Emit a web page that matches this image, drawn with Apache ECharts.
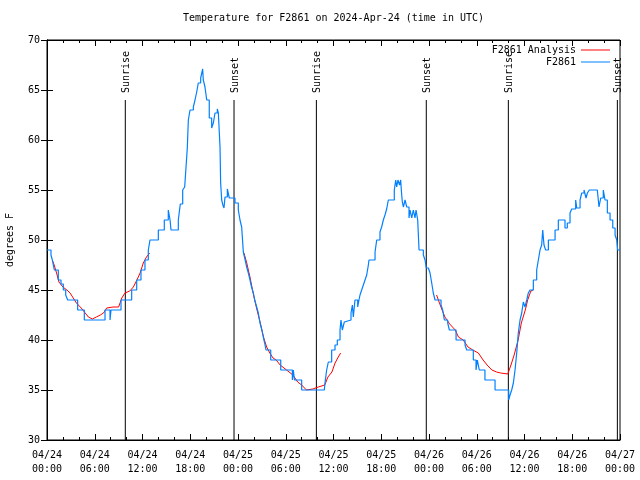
<!DOCTYPE html>
<html>
<head>
<meta charset="utf-8">
<script src="https://cdn.jsdelivr.net/npm/echarts@6/dist/echarts.min.js"></script>
<style>html,body{margin:0;padding:0;background:#fff}#c{width:640px;height:480px}</style>
</head>
<body>
<div id="c"></div>
<script>
// hours since 2024-04-24 00:00 UTC
const xTickLabels = ['04/24\n00:00','04/24\n06:00','04/24\n12:00','04/24\n18:00','04/25\n00:00','04/25\n06:00','04/25\n12:00','04/25\n18:00','04/26\n00:00','04/26\n06:00','04/26\n12:00','04/26\n18:00','04/27\n00:00'];
const sunTimes = [9.84, 23.5, 33.85, 47.66, 57.97, 71.67];
const sunLabels = ['Sunrise','Sunset','Sunrise','Sunset','Sunrise','Sunset'];

const obsTimes = [0,0.5,0.67,0.92,1.42,1.76,2.05,2.35,2.6,3.85,4.69,7.29,7.92,8.04,9.3,10.64,11.27,11.81,12.31,12.73,12.94,13.99,14.74,15.24,15.46,15.58,16.5,16.75,17.05,17.3,17.47,17.63,17.76,17.97,18.39,18.6,18.81,19.01,19.31,19.56,19.64,19.85,20.07,20.39,20.69,20.9,21.11,21.4,21.53,21.74,21.82,21.95,22.1,22.24,22.37,22.66,22.91,23.62,24.04,24.25,24.46,24.67,24.9,25.09,25.3,25.51,25.7,25.93,26.1,26.35,26.55,26.77,27.0,27.18,27.35,27.52,28.11,29.37,30.83,30.95,31.1,32.0,34.85,34.93,35.14,35.35,35.77,36.19,36.48,36.82,36.94,37.11,37.36,37.53,38.2,38.37,38.49,38.7,39.04,39.2,39.33,39.54,39.75,39.96,40.17,40.38,40.46,41.22,41.43,41.84,42.05,42.26,42.47,42.68,42.89,43.64,43.82,43.94,44.1,44.3,44.44,44.55,44.65,44.78,44.99,45.2,45.49,45.62,45.83,46.03,46.24,46.37,46.58,46.75,47.29,47.5,47.66,47.92,48.13,48.34,48.54,48.76,49.51,49.72,49.93,50.35,50.56,51.4,52.53,52.74,53.57,53.91,54.07,54.32,55.03,56.3,58.01,58.18,58.39,58.6,58.81,59.02,59.22,59.44,59.65,59.85,60.06,60.28,60.48,60.69,61.11,61.53,61.74,61.95,62.16,62.29,62.45,62.66,63.0,63.84,64.25,65.09,65.38,65.72,65.93,66.43,66.56,66.98,67.19,67.48,67.73,67.9,68.15,69.15,69.36,69.58,69.9,70.12,70.41,70.75,71.09,71.38,71.59,71.71,72];
const obsTemps = [49,48.5,48,47,46,45.6,45,44.5,44,43,42,43,42,43,44,45,46,47,48,49,50,51,52,53,52,51,52,53.6,55,55.3,57.3,59.2,62,63,63.3,64,64.8,65.7,66.2,67.1,66,65.3,64,62.2,61.2,61.7,62.7,63.1,62.7,59.3,55.7,54,53.5,53.2,54.3,55.1,54.2,53.7,53,52,51.3,48.8,48,47.3,46.7,46,45.3,44.7,44,43.3,42.7,41.7,41,40.3,39.7,39,38,37,36,37,36,35,35,35.7,37,37.8,39,39.5,40,41,42,41,41.8,42,42.7,43.5,42.3,44,43.3,44,44.5,45,45.5,46,46.5,47.5,48,48.8,50,50.8,51.3,52,52.5,53.1,54,55,56,55.3,56,55.5,56,54.7,53.8,53.3,54,53.3,52.2,53,52.2,53,52.2,53,52,49,48.5,48,47.2,47,46.7,45.7,44.7,44,43.5,43,42,41.7,41,40,39.5,39,38,37,38,37,36,35,34,34.5,35,35.7,37,38.7,40.7,42,42.7,43.8,43.3,44,44.7,45,46,47,48,49,49.5,51,49.5,49,50,51,52,51.2,51.7,52.7,53.1,54,53.2,54,54.7,55,54.2,54.7,55,55,53.3,54.2,55,54,52.7,52,51.2,50.5,50,49,49];

const anaTimes = [0.67,0.9,1.2,1.5,2.0,2.5,2.9,3.3,3.7,4.3,4.8,5.2,5.7,6.2,6.7,7.1,7.5,8.3,9.0,9.4,9.8,10.4,10.85,11.3,11.7,12.1,12.5,12.9,null,
  24.75,25.1,25.5,25.9,26.3,26.8,27.2,27.6,28.0,28.4,28.8,29.3,30.1,30.9,31.5,32.0,32.6,33.4,34.1,34.9,35.3,35.8,36.2,36.6,36.9,null,
  48.95,49.5,50.0,50.6,51.3,51.7,52.3,52.9,53.5,54.2,54.8,55.3,55.9,56.5,57.0,57.9,58.3,58.7,59.2,59.6,60.1,60.4,60.8,61.1];
const anaTemps = [48,47.5,46.7,45.8,45.3,45,44.7,44.2,43.7,43.2,42.7,42.3,42.1,42.3,42.5,42.7,43.2,43.3,43.3,44.2,44.7,44.9,45.3,46,46.7,47.7,48.3,48.7,null,
  48.7,47.7,46.3,44.7,43.3,41.7,40.3,39.3,38.7,38.2,38,37.5,37,36.5,35.8,35.5,35,35.1,35.3,35.5,36.3,36.8,37.7,38.3,38.7,null,
  44.5,43.3,42.3,41.6,41,40.3,40,39.3,39,38.7,38,37.5,37,36.8,36.7,36.6,37.5,38.5,40,41.7,43,44,44.9,45];

const FONT = 'DejaVu Sans Mono';
const txt = { fontFamily: FONT, fontSize: 10, color: '#000' };
const obsData = obsTimes.map((t, i) => [t, obsTemps[i]]);
const anaData = anaTimes.map((t, i) => t === null ? [null, null] : [t, anaTemps[i]]);

const chart = echarts.init(document.getElementById('c'), null, { renderer: 'canvas' });
const baseX = {
  type: 'value', min: 0, max: 72, interval: 6,
  axisLine: { show: true, lineStyle: { color: '#000', width: 1 } },
  axisTick: { show: true, inside: true, length: 6, lineStyle: { color: '#000' } },
  minorTick: { show: true, splitNumber: 3, length: 3, lineStyle: { color: '#000' } },
  splitLine: { show: false }
};
const baseY = {
  type: 'value', min: 30, max: 70, interval: 5,
  axisLine: { show: true, lineStyle: { color: '#000', width: 1 } },
  axisTick: { show: true, inside: true, length: 6, lineStyle: { color: '#000' } },
  splitLine: { show: false }
};
const legendBase = { right: 30, padding: 0, align: 'right', itemWidth: 29, itemHeight: 1, itemGap: 7, textStyle: txt };
chart.setOption({
  animation: false,
  backgroundColor: '#fff',
  title: { text: 'Temperature for F2861 on 2024-Apr-24 (time in UTC)', left: 183, top: 13, padding: 0,
    textStyle: { fontFamily: FONT, fontSize: 10, fontWeight: 'normal', color: '#000' } },
  grid: { left: 47, right: 20, top: 40, bottom: 40, outerBoundsMode: 'none', containLabel: false,
    show: true, borderColor: '#000', borderWidth: 1, backgroundColor: 'transparent' },
  legend: [
    Object.assign({ data: [{ name: 'F2861 Analysis', icon: 'rect' }], top: 45 }, legendBase),
    Object.assign({ data: [{ name: 'F2861', icon: 'rect' }], top: 57 }, legendBase)
  ],
  xAxis: [
    Object.assign({}, baseX, { position: 'bottom',
      axisLabel: Object.assign({}, txt, { margin: 8, lineHeight: 14, formatter: v => xTickLabels[Math.round(v / 6)] }) }),
    Object.assign({}, baseX, { position: 'top', axisLabel: { show: false } })
  ],
  yAxis: [
    Object.assign({}, baseY, { position: 'left', name: 'degrees F', nameLocation: 'middle', nameRotate: 90, nameGap: 32,
      nameTextStyle: txt, axisLabel: Object.assign({}, txt, { margin: 7 }) }),
    Object.assign({}, baseY, { position: 'right', axisLabel: { show: false } })
  ],
  series: [
    {
      type: 'custom', name: 'sun', xAxisIndex: 0, yAxisIndex: 0, clip: false, silent: true,
      data: sunTimes.map((t, i) => [t, i]),
      renderItem: function (params, api) {
        const t = api.value(0);
        const idx = api.value(1);
        const top = api.coord([t, 64]);
        const bot = api.coord([t, 30]);
        return { type: 'group', children: [
          { type: 'line', shape: { x1: top[0], y1: top[1], x2: bot[0], y2: bot[1] }, style: { stroke: '#000', lineWidth: 1 } },
          { type: 'text', x: top[0] + 1, y: top[1] - 7, rotation: Math.PI / 2,
            style: { text: sunLabels[idx], fill: '#000', font: '10px "DejaVu Sans Mono"', textAlign: 'left', textVerticalAlign: 'middle' } }
        ] };
      }
    },
    { type: 'line', name: 'F2861 Analysis', data: anaData, symbol: 'none', connectNulls: false,
      lineStyle: { color: '#ff0000', width: 1 }, itemStyle: { color: '#ff0000' } },
    { type: 'line', name: 'F2861', data: obsData, symbol: 'none', step: 'end',
      lineStyle: { color: '#0080ff', width: 1.2 }, itemStyle: { color: '#0080ff' } }
  ]
});
</script>
</body>
</html>
